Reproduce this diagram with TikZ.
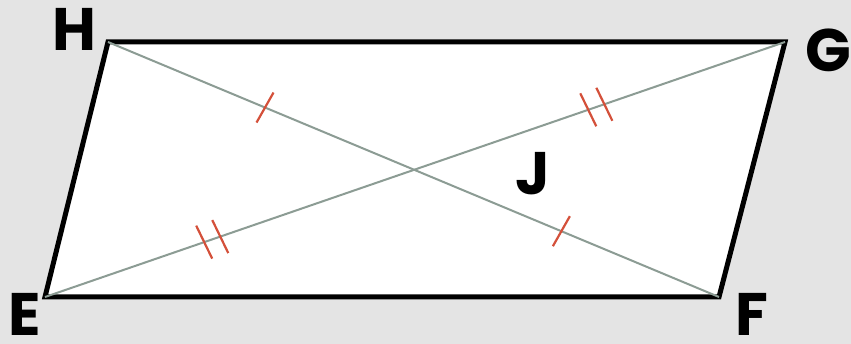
\documentclass[tikz,border=0pt]{standalone}
\usepackage{fontspec}
\setmainfont{Poppins}
\usetikzlibrary{calc}
\definecolor{bggray}{HTML}{E4E4E4}
\definecolor{diaggray}{HTML}{8C9C94}
\definecolor{tickred}{HTML}{D4503A}
\tikzset{
  outline/.style={draw=black, line width=5pt, fill=white},
  diag/.style={draw=diaggray, line width=2pt},
  tickmark/.style={draw=tickred, line width=2.2pt},
  vlabel/.style={font=\fontsize{60}{60}\selectfont\bfseries, inner sep=0pt, text=black, text depth=0pt}
}
\begin{document}
\begin{tikzpicture}[x=1pt, y=-1pt]
  \fill[bggray] (0,0) rectangle (851,344);
  \useasboundingbox (0,0) rectangle (851,344);
  \coordinate (H) at (108,42);
  \coordinate (G) at (785,42);
  \coordinate (F) at (719,297);
  \coordinate (E) at (45,297);
  \path[outline] (H) -- (G) -- (F) -- (E) -- cycle;
  \draw[diag] (H) -- (F);
  \draw[diag] (E) -- (G);
  % single ticks on HF
  \coordinate (t1) at ($(H)!0.257!(F)$);
  \coordinate (t2) at ($(H)!0.742!(F)$);
  \draw[tickmark] (t1) ++(-8.5,15) -- ++(17,-30);
  \draw[tickmark] (t2) ++(-8.5,15) -- ++(17,-30);
  % double ticks on EG
  \coordinate (d1) at ($(E)!0.226!(G)$);
  \coordinate (d2) at ($(E)!0.745!(G)$);
  \coordinate (d1a) at ($(d1)!-8.5pt!(G)$);
  \coordinate (d1b) at ($(d1)!8.5pt!(G)$);
  \coordinate (d2a) at ($(d2)!-8.5pt!(G)$);
  \coordinate (d2b) at ($(d2)!8.5pt!(G)$);
  \foreach \c in {d1a,d1b,d2a,d2b}
    \draw[tickmark] (\c) ++(-8,-16.5) -- ++(16,33);
  % labels
  \node[vlabel] (lH) at (74,29) {H};
  \node[vlabel] (lG) at (828,50) {G};
  \node[vlabel] (lE) at (25,314) {E};
  \node[vlabel] (lF) at (752,314) {F};
  \node[vlabel] (lJ) at (533,173) {J};
\end{tikzpicture}
\end{document}
